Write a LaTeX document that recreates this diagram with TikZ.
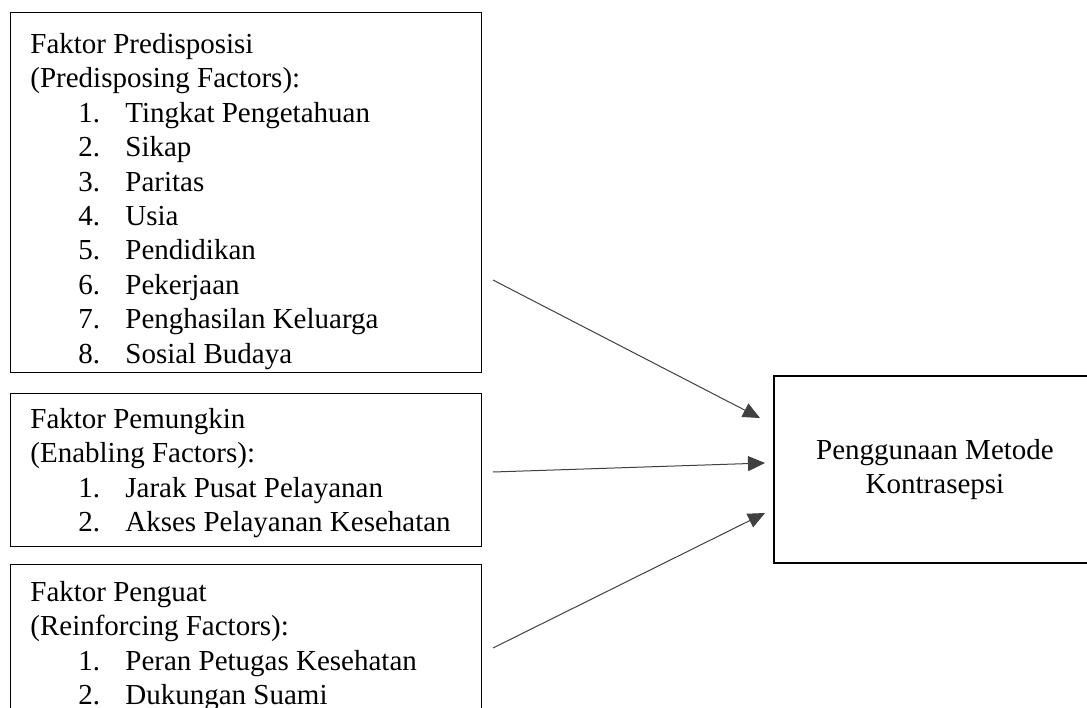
\documentclass[tikz,border=0pt]{standalone}
\usepackage{fontspec}
\setmainfont{Liberation Serif}
\usetikzlibrary{arrows.meta}
\newcommand{\itm}[2]{\hspace*{24pt}\makebox[23.5pt][l]{#1.}#2}
\tikzset{
	factorbox/.style={draw, line width=0.7pt, anchor=north west, inner sep=0pt},
	factortext/.style={anchor=north west, align=left, inner sep=0pt, font=\fontsize{14.5pt}{17.2pt}\selectfont},
	factorarrow/.style={-{Triangle[length=8.5pt,width=7.5pt]}, line width=0.5pt, draw=black!75},
}

\begin{document}
\begin{tikzpicture}[x=0.5pt,y=-0.5pt]
	\clip (0,0) rectangle (1087,707);
	% boxes on the left
	\node[factorbox, minimum width=235.5pt, minimum height=180pt] (pred) at (10,12) {};
	\node[factorbox, minimum width=235.5pt, minimum height=76.5pt] (enab) at (10,393) {};
	\node[factorbox, minimum width=235.5pt, minimum height=88pt] (reinf) at (10,564) {};
	\node[factortext] (predtxt) at (30,33) {Faktor Predisposisi\\(Predisposing Factors):\\
		\itm{1}{Tingkat Pengetahuan}\\ \itm{2}{Sikap}\\ \itm{3}{Paritas}\\ \itm{4}{Usia}\\
		\itm{5}{Pendidikan}\\ \itm{6}{Pekerjaan}\\ \itm{7}{Penghasilan Keluarga}\\ \itm{8}{Sosial Budaya}};
	\node[factortext] (enabtxt) at (30,408) {Faktor Pemungkin\\(Enabling Factors):\\
		\itm{1}{Jarak Pusat Pelayanan}\\ \itm{2}{Akses Pelayanan Kesehatan}};
	\node[factortext] (reinftxt) at (30,581) {Faktor Penguat\\(Reinforcing Factors):\\
		\itm{1}{Peran Petugas Kesehatan}\\ \itm{2}{Dukungan Suami}};
	% outcome
	\node[draw, line width=0.7pt, minimum width=161pt, minimum height=93.5pt, align=center,
		font=\fontsize{14.5pt}{17.2pt}\selectfont] (kb) at (935,469.5) {Penggunaan Metode\\Kontrasepsi};
	% arrows
	\coordinate (predfrom) at (493,280);
	\coordinate (predto) at (760,418);
	\coordinate (enabfrom) at (493,472);
	\coordinate (enabto) at (765,463);
	\coordinate (reinffrom) at (493,648);
	\coordinate (reinfto) at (765,513);
	\draw[factorarrow] (predfrom) -- (predto);
	\draw[factorarrow] (enabfrom) -- (enabto);
	\draw[factorarrow] (reinffrom) -- (reinfto);
\end{tikzpicture}
\end{document}
